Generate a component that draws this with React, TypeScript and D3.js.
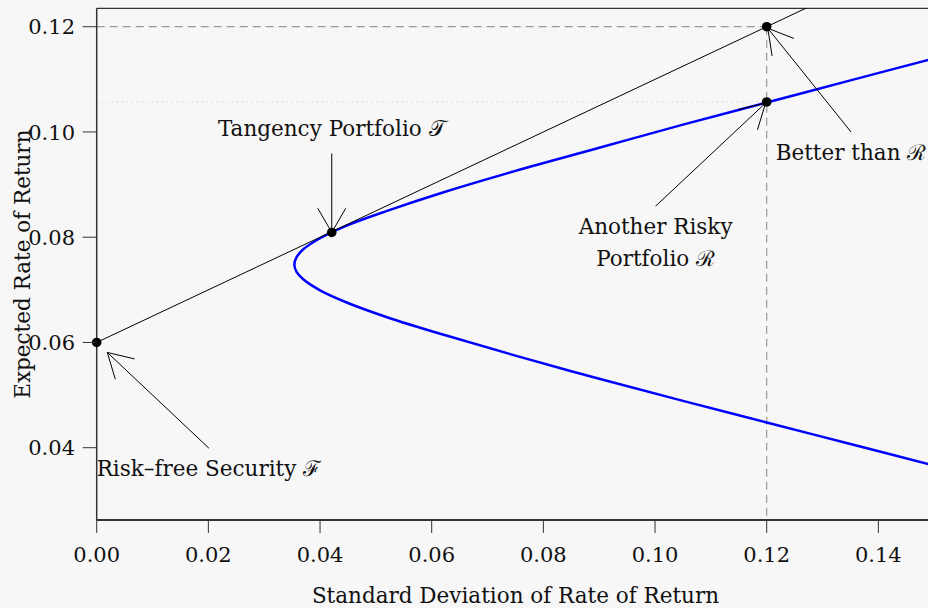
import React from 'react';
import * as d3 from 'd3';

// ---- data ----
const xTicks = [0, 0.02, 0.04, 0.06, 0.08, 0.1, 0.12, 0.14];
const yTicks = [0.04, 0.06, 0.08, 0.1, 0.12];

// efficient frontier (sigma, mu) traced from lower-right, through the vertex, to upper-right
const frontierSigma = [0.150, 0.135, 0.120, 0.105, 0.090, 0.075, 0.062, 0.052, 0.045, 0.040, 0.037, 0.0358, 0.0354, 0.0358, 0.037, 0.040, 0.045, 0.052, 0.062, 0.075, 0.090, 0.105, 0.120, 0.135, 0.150];
const frontierMu = [0.0366, 0.0407, 0.0448, 0.0489, 0.0531, 0.0575, 0.0615, 0.0648, 0.0675, 0.0699, 0.0720, 0.0734, 0.0748, 0.0762, 0.0777, 0.0798, 0.0823, 0.0850, 0.0885, 0.0926, 0.0970, 0.1014, 0.1056, 0.1098, 0.1140];

// capital market line
const cmlSigma = [0, 0.16];
const cmlMu = [0.06, 0.14];

// highlighted portfolios
const pointSigma = [0, 0.0421, 0.12, 0.12];
const pointMu = [0.06, 0.0809, 0.1057, 0.12];

// annotations
const annotLines = [['Risk–free Security ℱ'], ['Tangency Portfolio 𝒯'], ['Another Risky', 'Portfolio ℛ'], ['Better than ℛ']];
const annotSide = ['below', 'above', 'below', 'below'];
const arrowFromSigma = [0.0201, 0.0421, 0.1001, 0.1351];
const arrowFromMu = [0.0399, 0.0959, 0.0859, 0.1000];
const arrowToSigma = [0.0019, 0.0421, 0.1198, 0.1202];
const arrowToMu = [0.0581, 0.0809, 0.1055, 0.1197];

// guide lines
const riskySigma = 0.12;
const riskyMu = 0.1057;
const betterMu = 0.12;

export default function App() {
  const W = 928, H = 608;
  const left = 96.7, right = 934.2, top = 8.3, bottom = 520;
  const x = d3.scaleLinear().domain([0, 0.15]).range([left, right]);
  const y = d3.scaleLinear().domain([0.02626, 0.1235]).range([bottom, top]);
  const font = "'DejaVu Serif', serif";
  const fs = 21.5;
  const fsTick = 21;

  const frontier = frontierSigma.map((s, i) => [s, frontierMu[i]] as [number, number]);
  const line = d3.line<[number, number]>().x(d => x(d[0])).y(d => y(d[1])).curve(d3.curveCatmullRom.alpha(0.5));
  const cml = cmlSigma.map((s, i) => [s, cmlMu[i]] as [number, number]);
  const straight = d3.line<[number, number]>().x(d => x(d[0])).y(d => y(d[1]));

  const arrows = arrowFromSigma.map((s, i) => {
    const x0 = x(s), y0 = y(arrowFromMu[i]);
    const x1 = x(arrowToSigma[i]), y1 = y(arrowToMu[i]);
    const ang = Math.atan2(y0 - y1, x0 - x1);
    const L = 28, a = Math.PI / 6;
    const h1 = [x1 + L * Math.cos(ang + a), y1 + L * Math.sin(ang + a)];
    const h2 = [x1 + L * Math.cos(ang - a), y1 + L * Math.sin(ang - a)];
    return { x0, y0, x1, y1, h1, h2 };
  });

  return (
    <svg width={W} height={H} style={{ position: 'absolute', left: 0, top: 0, background: '#f7f7f7' }} fontFamily={font}>
      <rect x={0} y={0} width={W} height={H} fill="#f7f7f7" />
      <defs>
        <clipPath id="plot">
          <rect x={left} y={top} width={right - left} height={bottom - top} />
        </clipPath>
      </defs>
      {/* guide lines */}
      <line x1={x(0)} x2={x(riskySigma)} y1={y(riskyMu)} y2={y(riskyMu)} stroke="#c8c8c8" strokeWidth={1} strokeDasharray="1,4" />
      <line x1={x(0)} x2={x(riskySigma)} y1={y(betterMu)} y2={y(betterMu)} stroke="#999" strokeWidth={1.2} strokeDasharray="8,5" />
      <line x1={x(riskySigma)} x2={x(riskySigma)} y1={y(betterMu)} y2={bottom} stroke="#999" strokeWidth={1.2} strokeDasharray="8,5" />
      <g clipPath="url(#plot)">
        <path d={line(frontier) || ''} fill="none" stroke="#0000ff" strokeWidth={2.5} />
        <path d={straight(cml) || ''} fill="none" stroke="#000" strokeWidth={1} />
      </g>
      {/* box */}
      <line x1={left} x2={right} y1={top} y2={top} stroke="#000" strokeWidth={1} />
      <line x1={left} x2={left} y1={top} y2={bottom} stroke="#333" strokeWidth={1.5} />
      <line x1={left} x2={right} y1={bottom} y2={bottom} stroke="#333" strokeWidth={2} />
      {/* points */}
      {pointSigma.map((s, i) => (
        <circle key={i} cx={x(s)} cy={y(pointMu[i])} r={4.8} fill="#000" />
      ))}
      {/* arrows */}
      {arrows.map((a, i) => (
        <g key={i} stroke="#000" strokeWidth={1} fill="none">
          <line x1={a.x0} y1={a.y0} x2={a.x1} y2={a.y1} />
          <polyline points={`${a.h1[0]},${a.h1[1]} ${a.x1},${a.y1} ${a.h2[0]},${a.h2[1]}`} />
        </g>
      ))}
      {/* annotation labels */}
      {annotLines.map((lines, i) => {
        const ax = arrows[i].x0, ay = arrows[i].y0;
        const base = annotSide[i] === 'below' ? ay + 28 : ay - 18 - (lines.length - 1) * 32;
        return lines.map((t, j) => (
          <text key={`${i}-${j}`} x={ax} y={base + j * 32} textAnchor="middle" fontSize={fs} fill="#111">{t}</text>
        ));
      })}
      {/* x axis */}
      {xTicks.map(t => (
        <g key={t}>
          <line x1={x(t)} x2={x(t)} y1={bottom} y2={bottom + 13} stroke="#333" strokeWidth={1} />
          <text x={x(t)} y={561.5} textAnchor="middle" fontSize={fsTick} fill="#111">{d3.format('.2f')(t)}</text>
        </g>
      ))}
      {/* y axis */}
      {yTicks.map(t => (
        <g key={t}>
          <line x1={left - 14} x2={left} y1={y(t)} y2={y(t)} stroke="#333" strokeWidth={1} />
          <text x={75} y={y(t)} dy="0.36em" textAnchor="end" fontSize={fsTick} fill="#111">{d3.format('.2f')(t)}</text>
        </g>
      ))}
      <text x={(left + right) / 2} y={603} textAnchor="middle" fontSize={fs} fill="#111">Standard Deviation of Rate of Return</text>
      <text transform={`translate(30,${(top + bottom) / 2}) rotate(-90)`} textAnchor="middle" fontSize={fs} fill="#111">Expected Rate of Return</text>
    </svg>
  );
}
